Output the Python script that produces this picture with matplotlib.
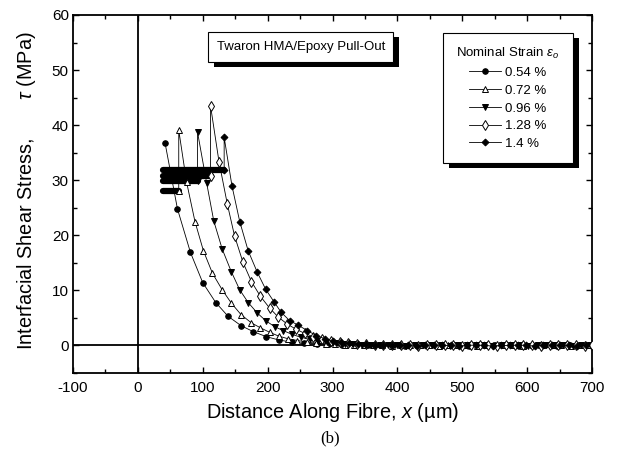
import matplotlib
matplotlib.use("Agg")
import matplotlib.pyplot as plt
from matplotlib.patches import Rectangle
from matplotlib.transforms import IdentityTransform
from matplotlib.ticker import MultipleLocator

plt.rcParams['font.family'] = ['Liberation Sans', 'DejaVu Sans']
plt.rcParams['mathtext.fontset'] = 'custom'
plt.rcParams['mathtext.rm'] = 'Liberation Sans'
plt.rcParams['mathtext.it'] = 'Liberation Sans:italic'
plt.rcParams['axes.unicode_minus'] = False

# --- data ---
labels = ['0.54 %', '0.72 %', '0.96 %', '1.28 %', '1.4 %']

# debonded (frictional) plateau: start x, end x, stress level
plateau_start = [None, 38, 38, 38, 38]
plateau_end = [None, 63, 92, 112, 133]
plateau_level = [None, 28.1, 29.8, 30.8, 31.9]

x054 = [42, 61, 81, 100, 120, 139, 159, 178, 198, 217, 237, 256, 276, 295, 315,
        334, 354, 373, 393, 412, 432, 451, 471, 490, 510, 529, 549, 568, 588, 607,
        627, 646, 666, 685, 700]
y054 = [36.7, 24.8, 16.9, 11.4, 7.8, 5.3, 3.6, 2.5, 1.6, 1.0, 0.6, 0.4, 0.3, 0.2, 0.1,
        0.1, 0.0, 0.1, 0.0, -0.1, 0.0, 0.1, 0.0, 0.0, -0.1, 0.0, 0.1, 0.0, -0.1, 0.1,
        0.0, -0.1, 0.0, 0.0, -0.1]

x072 = [63, 63, 75, 88, 101, 115, 130, 144, 159, 175, 189, 203, 217, 232, 246, 261,
        275, 290, 304, 319, 333, 348, 362, 377, 391, 406, 420, 435, 449, 464, 478,
        493, 507, 522, 536, 551, 565, 580, 594, 609, 623, 638, 652, 667, 681, 696]
y072 = [28.1, 39.1, 29.7, 22.5, 17.2, 13.1, 10.1, 7.7, 5.6, 4.1, 3.2, 2.4, 1.7, 1.2,
        0.9, 0.6, 0.4, 0.3, 0.2, 0.1, 0.1, 0.0, 0.1, 0.0, -0.1, 0.0, 0.1, 0.0, 0.0,
        -0.1, 0.0, 0.1, 0.0, -0.1, 0.0, 0.0, 0.1, 0.0, -0.1, 0.0, 0.1, 0.0, 0.0,
        -0.1, 0.0, 0.1]

x096 = [92, 92, 106, 117, 130, 144, 157, 170, 184, 197, 211, 224, 238, 251, 265,
        278, 292, 305, 319, 332, 346, 359, 373, 386, 400, 413, 427, 440, 454, 467,
        481, 494, 508, 521, 535, 548, 562, 575, 589, 602, 616, 629, 643, 656, 670,
        683, 697]
y096 = [29.8, 38.7, 29.5, 22.6, 17.5, 13.4, 10.1, 7.8, 5.9, 4.5, 3.4, 2.7, 2.0, 1.5,
        1.1, 0.8, 0.6, 0.4, 0.3, 0.2, 0.1, 0.1, 0.0, 0.1, 0.0, -0.1, 0.0, 0.1, 0.0,
        0.0, -0.1, 0.0, 0.1, 0.0, 0.0, -0.1, 0.0, 0.1, 0.0, -0.1, 0.0, 0.0, 0.1,
        0.0, -0.1, 0.0, 0.1]

x128 = [112, 112, 125, 138, 149, 162, 175, 189, 203, 216, 230, 243, 257, 270, 284,
        297, 311, 324, 338, 351, 365, 378, 392, 405, 419, 432, 446, 459, 473, 486,
        500, 513, 527, 540, 554, 567, 581, 594, 608, 621, 635, 648, 662, 675, 689, 700]
y128 = [30.8, 43.5, 33.4, 25.6, 19.9, 15.1, 11.6, 8.9, 6.8, 5.2, 3.9, 3.0, 2.2, 1.6,
        1.2, 0.9, 0.6, 0.4, 0.3, 0.2, 0.1, 0.1, 0.0, 0.1, 0.0, -0.1, 0.0, 0.1, 0.0,
        0.0, -0.1, 0.0, 0.1, 0.0, -0.1, 0.0, 0.0, 0.1, 0.0, -0.1, 0.0, 0.1, 0.0,
        0.0, -0.1, 0.0]

x140 = [133, 133, 145, 157, 170, 184, 197, 210, 221, 234, 247, 261, 275, 289, 300,
        313, 326, 339, 352, 365, 378, 391, 404, 417, 430, 443, 456, 469, 482, 495,
        508, 521, 534, 547, 560, 573, 586, 599, 612, 625, 638, 651, 664, 677, 690]
y140 = [31.9, 37.8, 29.0, 22.5, 17.2, 13.3, 10.2, 7.9, 6.0, 4.5, 3.7, 2.7, 1.8, 1.2,
        0.8, 0.6, 0.4, 0.3, 0.2, 0.1, 0.1, 0.0, 0.1, 0.0, -0.1, 0.0, 0.1, 0.0, 0.0,
        -0.1, 0.0, 0.1, 0.0, -0.1, 0.0, 0.0, 0.1, 0.0, -0.1, 0.0, 0.1, 0.0, 0.0,
        -0.1, 0.0]

xs = [x054, x072, x096, x128, x140]
ys = [y054, y072, y096, y128, y140]
styles = [dict(marker='o', ms=4, mfc='black'),
          dict(marker='^', ms=5, mfc='white'),
          dict(marker='v', ms=5, mfc='black'),
          dict(marker='d', ms=5, mfc='white'),
          dict(marker='D', ms=3.5, mfc='black')]

fig = plt.figure(figsize=(6.17, 4.58), dpi=100)
ax = fig.add_axes([73 / 617, 1 - 373 / 458, 519 / 617, 358 / 458])

ax.axhline(0, color='black', lw=1.3, zorder=1)
ax.axvline(0, color='black', lw=1.3, zorder=1)

for i in range(5):
    if plateau_start[i] is not None:
        ax.plot([plateau_start[i], plateau_end[i]], [plateau_level[i], plateau_level[i]],
                color='black', lw=4.5, solid_capstyle='round', zorder=2)
    ax.plot(xs[i], ys[i], color='black', lw=0.6, mec='black', mew=0.7,
            label=labels[i], zorder=3, **styles[i])

ax.set_xlim(-100, 700)
ax.set_ylim(-5, 60)
ax.xaxis.set_major_locator(MultipleLocator(100))
ax.xaxis.set_minor_locator(MultipleLocator(50))
ax.yaxis.set_major_locator(MultipleLocator(10))
ax.yaxis.set_minor_locator(MultipleLocator(5))
ax.tick_params(which='both', direction='in', top=True, right=True, width=1.0,
               labelsize=11)
ax.tick_params(which='major', length=4.5)
ax.tick_params(which='minor', length=3)
ax.tick_params(axis='x', pad=6)
ax.tick_params(axis='y', pad=3)
ax.set_yticks([0, 10, 20, 30, 40, 50, 60])
for sp in ax.spines.values():
    sp.set_linewidth(1.3)

ax.set_xlabel('Distance Along Fibre, $x$ (µm)', fontsize=14.3, labelpad=4)
ax.set_ylabel(r'Interfacial Shear Stress,       $\tau$ (MPa)', fontsize=14.3)
ax.yaxis.set_label_coords(-0.068, 0.51)

txt = ax.text(251, 54.2, 'Twaron HMA/Epoxy Pull-Out', fontsize=9.5, ha='center',
              va='center', zorder=7,
              bbox=dict(boxstyle='square,pad=0.65', fc='white', ec='black', lw=0.8))

leg = ax.legend(loc='upper left', bbox_to_anchor=(0.713, 0.95),
                title='Nominal Strain $\\varepsilon_o$', fontsize=9.5,
                title_fontsize=9.5, fancybox=False, edgecolor='black',
                framealpha=1, handlelength=2.4, labelspacing=0.42,
                borderpad=1.0, handletextpad=0.3, borderaxespad=0)
leg.get_frame().set_linewidth(0.8)
leg.set_zorder(7)

fig.text(330 / 617, 1 - 438 / 458, '(b)', ha='center', va='center',
         family='Liberation Serif', fontsize=12)

# black drop shadows behind the two boxes
fig.canvas.draw()
r = fig.canvas.get_renderer()
for bb in [txt.get_bbox_patch().get_window_extent(r),
           leg.get_frame().get_window_extent(r)]:
    ax.add_patch(Rectangle((bb.x0 + 6, bb.y0 - 5), bb.width, bb.height,
                           transform=IdentityTransform(), fc='black', ec='none',
                           zorder=6, clip_on=False))

fig.savefig('out.png', dpi=100)
